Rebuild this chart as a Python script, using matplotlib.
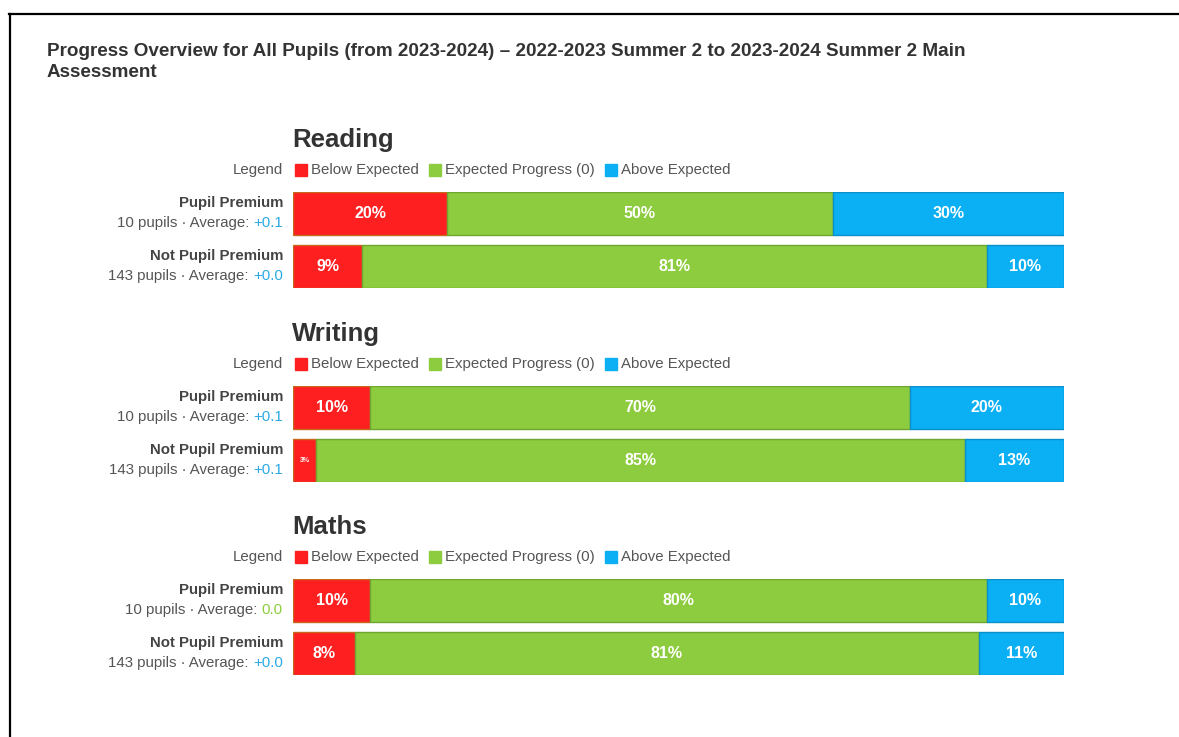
import numpy as np
import matplotlib
matplotlib.use('Agg')
import matplotlib.pyplot as plt
from matplotlib.patches import Rectangle
from matplotlib.lines import Line2D

plt.rcParams['font.family'] = ['Liberation Sans', 'DejaVu Sans']

title = ('Progress Overview for All Pupils (from 2023-2024) \u2013 2022-2023 Summer 2 to 2023-2024 Summer 2 Main\n'
         'Assessment')
subjects = ['Reading', 'Writing', 'Maths']
groups = ['Pupil Premium', 'Not Pupil Premium']
pupils = [10, 143]
categories = ['Below Expected', 'Expected Progress (0)', 'Above Expected']

below = [[20, 9], [10, 3], [10, 8]]
expected = [[50, 81], [70, 85], [80, 81]]
above = [[30, 10], [20, 13], [10, 11]]
averages = [['+0.1', '+0.0'], ['+0.1', '+0.1'], ['0.0', '+0.0']]

colors = ['#fe1f20', '#8dcc3e', '#0aaff4']
edges = ['#c8671e', '#6fa632', '#0a8fc8']
blue_txt = '#2aa9e6'
green_txt = '#8dcc3e'

W, H = 1179, 737
fig = plt.figure(figsize=(W / 100, H / 100), dpi=100)


def fx(px):
    return px / W


def fy(py):
    return 1 - py / H


# frame lines
fig.add_artist(Line2D([fx(9), 1], [fy(14), fy(14)], color='black', lw=1.6))
fig.add_artist(Line2D([fx(10), fx(10)], [fy(14), 0], color='black', lw=1.6))

fig.text(fx(47), fy(62), title, fontsize=13.6, fontweight='bold', color='#333333',
         ha='left', va='center', linespacing=1.3)

renderer = fig.canvas.get_renderer()

bar_left, bar_right = 293, 1064
label_x = 283
tops = [192, 386, 579]
pitch = 53
bar_h = 43
small = 10.8

for s, subj in enumerate(subjects):
    top = tops[s]
    ax = fig.add_axes([fx(bar_left), fy(top + pitch + bar_h), fx(bar_right - bar_left),
                       (pitch + bar_h) / H])
    ax.set_xlim(0, 100)
    ax.set_ylim(-0.5 * bar_h / pitch, 1 + 0.5 * bar_h / pitch)
    ax.invert_yaxis()
    ax.axis('off')

    for g in range(2):
        vals = [below[s][g], expected[s][g], above[s][g]]
        total = sum(vals)
        left = 0
        for k, v in enumerate(vals):
            w = v * 100 / total
            ax.barh(g, w, left=left, height=bar_h / pitch, color=colors[k],
                    edgecolor=edges[k], linewidth=1)
            fs = 11.5 if v >= 5 else 5
            ax.text(left + w / 2, g, f'{v}%', ha='center', va='center', color='white',
                    fontsize=fs, fontweight='bold')
            left += w

        # row labels
        y_row = top + g * pitch
        fig.text(fx(label_x), fy(y_row + 11), groups[g], ha='right', va='center',
                 fontsize=small, fontweight='bold', color='#444444')
        avg = averages[s][g]
        acol = green_txt if avg == '0.0' else blue_txt
        t = fig.text(fx(label_x), fy(y_row + 31), avg, ha='right', va='center',
                     fontsize=small, color=acol)
        bb = t.get_window_extent(renderer)
        fig.text(bb.x0 / W, fy(y_row + 31), f'{pupils[g]} pupils \u00b7 Average: ', ha='right',
                 va='center', fontsize=small, color='#555555')

    # subject title
    fig.text(fx(bar_left - 1), fy(top - 52), subj, ha='left', va='center', fontsize=18.5,
             fontweight='bold', color='#333333')

    # legend row
    ly = top - 22
    fig.text(fx(label_x), fy(ly), 'Legend', ha='right', va='center', fontsize=small,
             color='#555555')
    x = bar_left + 2
    for k, cat in enumerate(categories):
        fig.add_artist(Rectangle((fx(x), fy(ly + 6)), fx(12), 12 / H, color=colors[k]))
        t = fig.text(fx(x + 16), fy(ly), cat, ha='left', va='center', fontsize=small,
                     color='#555555')
        bb = t.get_window_extent(renderer)
        x = bb.x1 + 10

fig.savefig('out.png', dpi=100)
